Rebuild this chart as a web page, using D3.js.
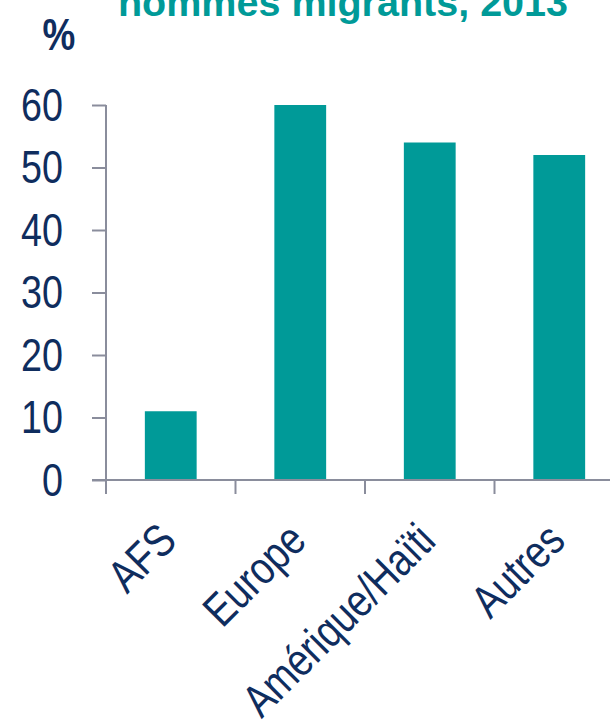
<!DOCTYPE html>
<html><head><meta charset="utf-8">
<script src="https://cdn.jsdelivr.net/npm/d3@7"></script>
<style>html,body{margin:0;padding:0;background:#fff;}</style>
</head><body>
<script>
const categories = ["AFS", "Europe", "Amérique/Haïti", "Autres"];
const values = [11, 60, 54, 52];
const yTicks = [0, 10, 20, 30, 40, 50, 60];
const titleText = "hommes migrants, 2013";
const unitText = "%";

const W = 610, H = 724;
const teal = "#009a98", navy = "#0f2d5e", axisCol = "#8a8d9c";
const FONT = "Liberation Sans, Arial, sans-serif";
const NARROW = 0.82;
const svg = d3.select("body").append("svg").attr("width", W).attr("height", H);

const x0 = 106, step = 129.5;
const xAxisScale = d3.scaleBand().domain(categories).range([x0, x0 + step * categories.length]).padding(0);
const xBar = d3.scaleBand().domain(categories).range([x0, x0 + step * categories.length]).paddingInner(0.6).paddingOuter(0.3);
const y = d3.scaleLinear().domain([0, 60]).range([480, 105]);

// title
svg.append("text").attr("x", 343).attr("y", 16).attr("text-anchor", "middle")
  .attr("font-family", FONT).attr("font-weight", "bold")
  .attr("font-size", 39.5).attr("fill", teal).text(titleText);
svg.append("text").attr("transform", `translate(59,50) scale(${NARROW},1)`).attr("text-anchor", "middle")
  .attr("font-family", FONT).attr("font-weight", "bold")
  .attr("font-size", 45).attr("fill", navy).text(unitText);

// bars
svg.selectAll("rect.bar").data(values).enter().append("rect")
  .attr("x", (d, i) => xBar(categories[i])).attr("width", xBar.bandwidth())
  .attr("y", d => y(d)).attr("height", d => y(0) - y(d)).attr("fill", teal);

// y axis
const yAx = svg.append("g").attr("transform", `translate(${x0},0)`)
  .call(d3.axisLeft(y).tickValues(yTicks).tickSize(14).tickFormat(d3.format("d")));
yAx.select(".domain").remove();
yAx.append("line").attr("x1", 0).attr("x2", 0).attr("y1", y(60)).attr("y2", 494).attr("stroke", axisCol).attr("stroke-width", 2);
yAx.selectAll(".tick line").attr("stroke", axisCol).attr("stroke-width", 2);
yAx.selectAll(".tick text").attr("x", null).attr("dy", null)
  .attr("transform", `translate(-43,0) scale(${NARROW},1)`).attr("y", 0).attr("dy", "0.33em")
  .attr("font-family", FONT).attr("font-size", 46).attr("fill", navy);

// x axis
svg.append("line").attr("x1", 92).attr("x2", W).attr("y1", y(0)).attr("y2", y(0)).attr("stroke", axisCol).attr("stroke-width", 2);
svg.selectAll("line.xt").data(categories).enter().append("line")
  .attr("x1", d => xAxisScale(d)).attr("x2", d => xAxisScale(d))
  .attr("y1", y(0)).attr("y2", y(0) + 14).attr("stroke", axisCol).attr("stroke-width", 2);

svg.selectAll("text.cat").data(categories).enter().append("text")
  .attr("transform", d => `translate(${xAxisScale(d) + xAxisScale.bandwidth() / 2 + 8},${y(0) + 63}) rotate(-45) scale(${NARROW},1)`)
  .attr("text-anchor", "end")
  .attr("font-family", FONT).attr("font-size", 46).attr("fill", navy).text(d => d);
</script>
</body></html>
